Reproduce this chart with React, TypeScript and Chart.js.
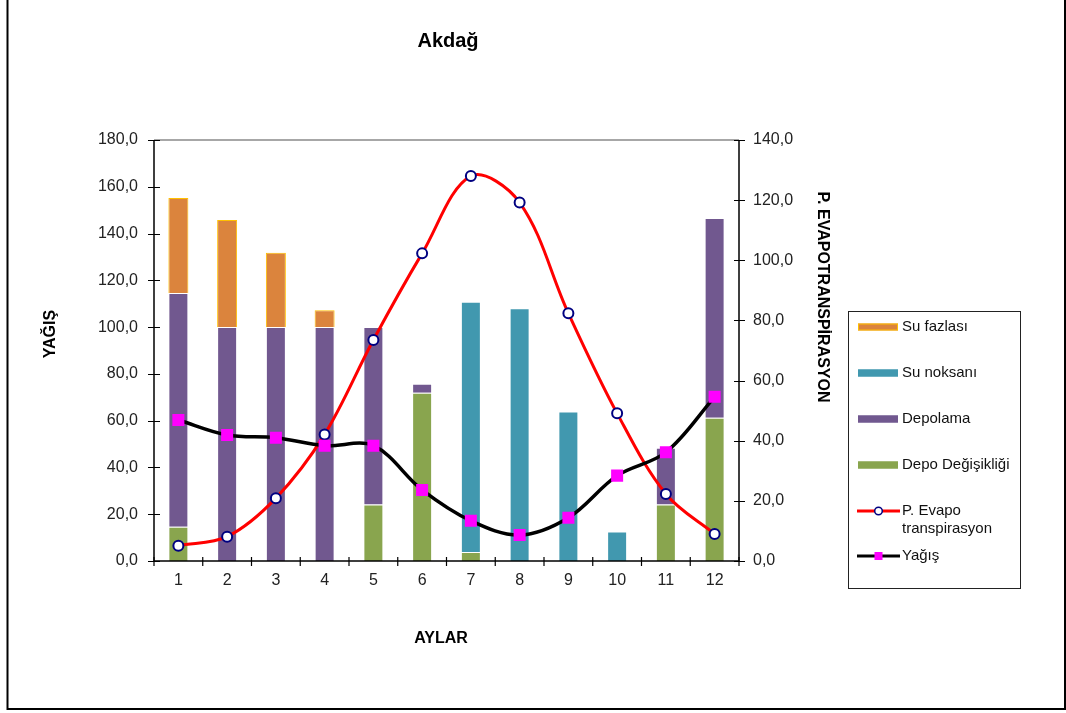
import { useEffect, useRef } from "react";
import { Chart, registerables } from "chart.js";

Chart.register(...registerables);

const FONT = "'Liberation Sans', Arial, Helvetica, sans-serif";

// Akdağ monthly water balance
const aylar = ["1", "2", "3", "4", "5", "6", "7", "8", "9", "10", "11", "12"];
const yagis = [60.3, 53.9, 52.7, 49.3, 49.3, 30.4, 17.2, 11.1, 18.5, 36.5, 46.5, 70.2];
const potansiyelET = [5.1, 8.1, 20.9, 42.1, 73.5, 102.3, 128.0, 119.2, 82.4, 49.1, 22.3, 9.0];
const depoDegisikligi = [14.6, 0, 0, 0, 24.2, 71.9, 3.9, 0, 0, 0, 24.2, 61.2];
const depolama = [100, 100, 100, 100, 75.8, 3.9, 0, 0, 0, 0, 24.2, 85.4];
const suNoksani = [0, 0, 0, 0, 0, 0, 106.9, 108.1, 63.9, 12.6, 0, 0];
const suFazlasi = [40.6, 45.8, 31.8, 7.2, 0, 0, 0, 0, 0, 0, 0, 0];

const RENK = {
  fazla: "#DB843D",
  fazlaKenar: "#FFC000",
  noksan: "#4198AF",
  depolama: "#71588F",
  degisim: "#89A54E",
  pet: "#FF0000",
  petNokta: "#000080",
  yagis: "#000000",
  yagisNokta: "#FF00FF",
};

const fmt = (v: number | string) => Number(v).toFixed(1).replace(".", ",");

type LegendItem = {
  lines: string[];
  kind: "bar" | "line";
  fill: string;
  stroke: string;
  marker?: "circle" | "rect";
  markerFill?: string;
  markerStroke?: string;
};

const legendItems: LegendItem[] = [
  { lines: ["Su fazlası"], kind: "bar", fill: RENK.fazla, stroke: RENK.fazlaKenar },
  { lines: ["Su noksanı"], kind: "bar", fill: RENK.noksan, stroke: RENK.noksan },
  { lines: ["Depolama"], kind: "bar", fill: RENK.depolama, stroke: RENK.depolama },
  { lines: ["Depo Değişikliği"], kind: "bar", fill: RENK.degisim, stroke: RENK.degisim },
  {
    lines: ["P. Evapo", "transpirasyon"],
    kind: "line",
    fill: RENK.pet,
    stroke: RENK.pet,
    marker: "circle",
    markerFill: "#ffffff",
    markerStroke: RENK.petNokta,
  },
  {
    lines: ["Yağış"],
    kind: "line",
    fill: RENK.yagis,
    stroke: RENK.yagis,
    marker: "rect",
    markerFill: RENK.yagisNokta,
    markerStroke: RENK.yagisNokta,
  },
];
const legendRows = [327, 373, 419, 465, 511, 556];

const decorations = {
  id: "akdagDecor",
  beforeDatasetsDraw(chart: any) {
    const { ctx, chartArea: a } = chart;
    ctx.save();
    ctx.strokeStyle = "#8a8a8a";
    ctx.lineWidth = 1.5;
    ctx.beginPath();
    ctx.moveTo(a.left, a.top);
    ctx.lineTo(a.right, a.top);
    ctx.stroke();
    ctx.restore();
  },
  afterDatasetsDraw(chart: any) {
    const { ctx, chartArea: a, scales } = chart;
    ctx.save();
    ctx.strokeStyle = "#000";
    ctx.lineWidth = 1.5;
    ctx.beginPath();
    ctx.moveTo(a.left, a.top);
    ctx.lineTo(a.left, a.bottom);
    ctx.moveTo(a.right, a.top);
    ctx.lineTo(a.right, a.bottom);
    ctx.moveTo(a.left, a.bottom);
    ctx.lineTo(a.right, a.bottom);
    ctx.stroke();

    ctx.lineWidth = 1.2;
    ctx.beginPath();
    scales.y.ticks.forEach((_: any, i: number) => {
      const py = Math.round(scales.y.getPixelForTick(i)) + 0.5;
      ctx.moveTo(a.left - 6, py);
      ctx.lineTo(a.left + 6, py);
    });
    scales.y1.ticks.forEach((_: any, i: number) => {
      const py = Math.round(scales.y1.getPixelForTick(i)) + 0.5;
      ctx.moveTo(a.right - 5, py);
      ctx.lineTo(a.right + 6, py);
    });
    const xs = scales.x;
    const n = xs.ticks.length;
    const step = (a.right - a.left) / n;
    for (let i = 0; i <= n; i++) {
      const px = i < n ? xs.getPixelForTick(i) - step / 2 : xs.getPixelForTick(n - 1) + step / 2;
      ctx.moveTo(px, a.bottom - 4);
      ctx.lineTo(px, a.bottom + 5);
    }
    ctx.stroke();
    ctx.restore();
  },
  afterDraw(chart: any) {
    const { ctx } = chart;
    ctx.save();

    // outer frame
    ctx.strokeStyle = "#000";
    ctx.lineWidth = 2;
    ctx.strokeRect(7.5, -5, 1057.5, 714);

    // titles
    ctx.fillStyle = "#000";
    ctx.textBaseline = "middle";
    ctx.textAlign = "center";
    ctx.font = `bold 20px ${FONT}`;
    ctx.fillText("Akdağ", 448, 41);
    ctx.font = `bold 16px ${FONT}`;
    ctx.fillText("AYLAR", 441, 639);

    ctx.save();
    ctx.translate(51, 334);
    ctx.rotate(-Math.PI / 2);
    ctx.fillText("YAĞIŞ", 0, 0);
    ctx.restore();

    ctx.save();
    ctx.translate(822, 297);
    ctx.rotate(Math.PI / 2);
    ctx.fillText("P. EVAPOTRANSPİRASYON", 0, 0);
    ctx.restore();

    // legend box
    ctx.strokeStyle = "#222";
    ctx.lineWidth = 1;
    ctx.strokeRect(848.5, 311.5, 172, 277);

    ctx.textAlign = "left";
    ctx.font = `15px ${FONT}`;
    legendItems.forEach((it, i) => {
      const y = legendRows[i];
      if (it.kind === "bar") {
        ctx.fillStyle = it.fill;
        ctx.fillRect(858, y - 3.5, 40, 7);
        ctx.strokeStyle = it.stroke;
        ctx.lineWidth = 1;
        ctx.strokeRect(858.5, y - 3, 39, 6);
      } else {
        ctx.strokeStyle = it.stroke;
        ctx.lineWidth = 3;
        ctx.beginPath();
        ctx.moveTo(857, y);
        ctx.lineTo(900, y);
        ctx.stroke();
        ctx.fillStyle = it.markerFill!;
        ctx.strokeStyle = it.markerStroke!;
        if (it.marker === "circle") {
          ctx.lineWidth = 1.5;
          ctx.beginPath();
          ctx.arc(878.5, y, 3.8, 0, Math.PI * 2);
          ctx.fill();
          ctx.stroke();
        } else {
          ctx.fillRect(874.5, y - 4, 8, 8);
        }
      }
      ctx.fillStyle = "#111";
      it.lines.forEach((t, k) => ctx.fillText(t, 902, y + k * 18));
    });

    ctx.restore();
  },
};

export default function App() {
  const canvasRef = useRef<HTMLCanvasElement | null>(null);

  useEffect(() => {
    const canvas = canvasRef.current;
    if (!canvas) return;

    const tickFont = { family: FONT, size: 16 };
    const barBase = {
      type: "bar" as const,
      yAxisID: "y",
      stack: "denge",
      order: 2,
      borderWidth: 1,
      barPercentage: 0.41,
      categoryPercentage: 1,
    };

    const chart = new Chart(canvas, {
      type: "bar",
      data: {
        labels: aylar,
        datasets: [
          {
            type: "line",
            label: "Yağış",
            data: yagis,
            yAxisID: "y",
            stack: "yagisCizgi",
            order: 0,
            borderColor: RENK.yagis,
            borderWidth: 3.5,
            tension: 0.35,
            fill: false,
            pointStyle: "rect",
            pointRadius: 8.5,
            pointHoverRadius: 8.5,
            pointBackgroundColor: RENK.yagisNokta,
            pointBorderColor: RENK.yagisNokta,
            pointBorderWidth: 0,
          },
          {
            type: "line",
            label: "P. Evapo transpirasyon",
            data: potansiyelET,
            yAxisID: "y1",
            order: 1,
            borderColor: RENK.pet,
            borderWidth: 3,
            tension: 0.35,
            fill: false,
            pointStyle: "circle",
            pointRadius: 5,
            pointHoverRadius: 5,
            pointBackgroundColor: "#ffffff",
            pointBorderColor: RENK.petNokta,
            pointBorderWidth: 2,
          },
          {
            ...barBase,
            label: "Depo Değişikliği",
            data: depoDegisikligi,
            backgroundColor: RENK.degisim,
            borderColor: "rgba(255,255,255,0.45)",
          },
          {
            ...barBase,
            label: "Depolama",
            data: depolama,
            backgroundColor: RENK.depolama,
            borderColor: "rgba(255,255,255,0.45)",
          },
          {
            ...barBase,
            label: "Su noksanı",
            data: suNoksani,
            backgroundColor: RENK.noksan,
            borderColor: "rgba(255,255,255,0.45)",
          },
          {
            ...barBase,
            label: "Su fazlası",
            data: suFazlasi,
            backgroundColor: RENK.fazla,
            borderColor: RENK.fazlaKenar,
          },
        ] as any,
      },
      options: {
        animation: false,
        responsive: true,
        maintainAspectRatio: false,
        layout: { padding: { left: 0, top: 140, right: 227, bottom: 112 } },
        plugins: {
          legend: { display: false },
          title: { display: false },
          tooltip: { enabled: false },
        },
        scales: {
          x: {
            type: "category",
            stacked: true,
            offset: true,
            grid: { display: false, drawTicks: false },
            border: { display: false },
            ticks: { font: tickFont, color: "#222", padding: 10, maxRotation: 0 },
            afterFit(s: any) {
              s.height = 40;
            },
          },
          y: {
            position: "left",
            stacked: true,
            min: 0,
            max: 180,
            grid: { display: false, drawTicks: false },
            border: { display: false },
            ticks: { stepSize: 20, font: tickFont, color: "#222", padding: 16, callback: fmt },
            afterFit(s: any) {
              s.width = 154;
            },
          },
          y1: {
            position: "right",
            min: 0,
            max: 140,
            grid: { display: false, drawTicks: false },
            border: { display: false },
            ticks: { stepSize: 20, font: tickFont, color: "#222", padding: 14, callback: fmt },
            afterFit(s: any) {
              s.width = 100;
            },
          },
        } as any,
      },
      plugins: [decorations],
    });

    return () => chart.destroy();
  }, []);

  return (
    <div
      style={{
        position: "fixed",
        left: 0,
        top: 0,
        width: 1066,
        height: 713,
        background: "#ffffff",
      }}
    >
      <canvas ref={canvasRef} />
    </div>
  );
}
